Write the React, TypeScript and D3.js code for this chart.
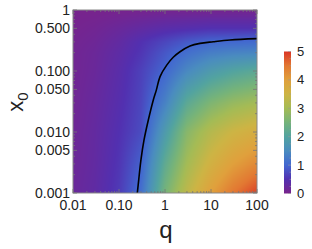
import { useMemo } from 'react';
import * as d3 from 'd3';

// grid: rows are x0, columns are q
const qGrid = [0.01, 0.03, 0.1, 0.3, 1, 3, 10, 30, 100];
const x0Grid = [0.001, 0.003, 0.01, 0.03, 0.1, 0.2, 0.3, 0.5, 1];
const row0001 = [0.2, 0.33, 0.6, 1.1, 2.5, 3.3, 4.0, 4.5, 4.9];
const row0003 = [0.17, 0.3, 0.55, 0.95, 2.2, 3.0, 3.6, 4.0, 4.3];
const row001 = [0.15, 0.28, 0.5, 0.75, 1.8, 2.7, 3.2, 3.5, 3.7];
const row003 = [0.12, 0.25, 0.45, 0.7, 1.35, 2.15, 2.6, 2.85, 3.0];
const row01 = [0.1, 0.2, 0.4, 0.65, 1.0, 1.45, 1.8, 2.0, 2.15];
const row02 = [0.1, 0.18, 0.35, 0.55, 0.85, 1.1, 1.3, 1.38, 1.42];
const row03 = [0.08, 0.15, 0.3, 0.5, 0.7, 0.88, 1.0, 1.02, 1.05];
const row05 = [0.05, 0.1, 0.2, 0.3, 0.4, 0.45, 0.5, 0.5, 0.5];
const row1 = [0.02, 0.02, 0.03, 0.04, 0.05, 0.05, 0.05, 0.05, 0.05];
const rows = [row0001, row0003, row001, row003, row01, row02, row03, row05, row1];

// level-1 contour, points
const contourQ = [0.25, 0.268, 0.3, 0.35, 0.434, 0.557, 0.65, 0.78, 1.09, 1.51, 2.12, 3.49, 5.77, 11.2, 25.9, 100];
const contourX0 = [0.001, 0.00163, 0.0035, 0.0074, 0.0157, 0.0335, 0.049, 0.081, 0.125, 0.168, 0.207, 0.257, 0.284, 0.302, 0.322, 0.339];

const xTickLabels = ['0.01', '0.10', '1', '10', '100'];
const xTickValues = [0.01, 0.1, 1, 10, 100];
const yTickLabels = ['1', '0.500', '0.100', '0.050', '0.010', '0.005', '0.001'];
const yTickValues = [1, 0.5, 0.1, 0.05, 0.01, 0.005, 0.001];
const barTicks = [0, 1, 2, 3, 4, 5];

const rainbow = ['#79238b', '#5230b0', '#4267d0', '#4a8cbf', '#52a3a0', '#75b37a', '#a4bb55', '#cdb444', '#e0a03c', '#e27832', '#da3526'];

const W = 312, H = 249;
const L = 73, R = 257, T = 10, B = 193;
const font = '"Liberation Sans", Arial, sans-serif';

export default function App() {
  const x = d3.scaleLog().domain([0.01, 100]).range([L, R]);
  const y = d3.scaleLog().domain([0.001, 1]).range([B, T]);
  const color = d3.scaleLinear<string>()
    .domain(d3.range(rainbow.length).map(i => (i * 5) / (rainbow.length - 1)))
    .range(rainbow)
    .clamp(true);
  const cb = d3.scaleLinear().domain([0, 5]).range([193.5, 51.5]);

  const href = useMemo(() => {
    const w = R - L, h = B - T;
    const canvas = document.createElement('canvas');
    canvas.width = w; canvas.height = h;
    const ctx = canvas.getContext('2d');
    if (!ctx) return '';
    const img = ctx.createImageData(w, h);
    const lq = qGrid.map(Math.log10);
    const lx = x0Grid.map(Math.log10);
    const find = (arr: number[], v: number) => {
      let i = 0;
      while (i < arr.length - 2 && v > arr[i + 1]) i++;
      const t = Math.max(0, Math.min(1, (v - arr[i]) / (arr[i + 1] - arr[i])));
      return [i, t];
    };
    for (let py = 0; py < h; py++) {
      const vx0 = Math.log10(y.invert(T + py + 0.5));
      const [j, ty] = find(lx, vx0);
      for (let px = 0; px < w; px++) {
        const vq = Math.log10(x.invert(L + px + 0.5));
        const [i, tx] = find(lq, vq);
        const a = rows[j][i] * (1 - tx) + rows[j][i + 1] * tx;
        const b = rows[j + 1][i] * (1 - tx) + rows[j + 1][i + 1] * tx;
        const c = d3.rgb(color(a * (1 - ty) + b * ty));
        const k = (py * w + px) * 4;
        img.data[k] = c.r; img.data[k + 1] = c.g; img.data[k + 2] = c.b; img.data[k + 3] = 255;
      }
    }
    ctx.putImageData(img, 0, 0);
    return canvas.toDataURL();
  }, []);

  const line = d3.line<number>()
    .x(i => x(contourQ[i]))
    .y(i => y(contourX0[i]))
    .curve(d3.curveCatmullRom);

  const xMinor: number[] = [];
  for (let d = 0.01; d < 100; d *= 10) for (let m = 2; m <= 9; m++) xMinor.push(d * m);
  const yMinor: number[] = [];
  for (let d = 0.001; d < 1; d *= 10) for (let m = 2; m <= 9; m++) if (m !== 5) yMinor.push(d * m);
  const barMinor = d3.range(0, 5.01, 0.25).filter(v => Math.abs(v - Math.round(v)) > 0.01);
  const tick = '#777';

  return (
    <svg width={W} height={H} style={{ position: 'absolute', left: 0, top: 0 }}>
      <image href={href} x={L} y={T} width={R - L} height={B - T} preserveAspectRatio="none" />
      <path d={line(d3.range(contourQ.length)) || ''} fill="none" stroke="#000" strokeWidth={1.6} />
      <rect x={L} y={T} width={R - L} height={B - T} fill="none" stroke="#888" strokeWidth={1} />
      <g stroke={tick} strokeWidth={0.8}>
        {xTickValues.map(v => (
          <g key={'xt' + v}>
            <line x1={x(v)} x2={x(v)} y1={B} y2={B - 4} />
            <line x1={x(v)} x2={x(v)} y1={T} y2={T + 4} />
          </g>
        ))}
        {xMinor.map(v => (
          <g key={'xm' + v}>
            <line x1={x(v)} x2={x(v)} y1={B} y2={B - 2} />
            <line x1={x(v)} x2={x(v)} y1={T} y2={T + 2} />
          </g>
        ))}
        {yTickValues.map(v => (
          <g key={'yt' + v}>
            <line x1={L} x2={L + 4} y1={y(v)} y2={y(v)} />
            <line x1={R} x2={R - 4} y1={y(v)} y2={y(v)} />
          </g>
        ))}
        {yMinor.map(v => (
          <g key={'ym' + v}>
            <line x1={L} x2={L + 2} y1={y(v)} y2={y(v)} />
            <line x1={R} x2={R - 2} y1={y(v)} y2={y(v)} />
          </g>
        ))}
      </g>
      <g fontFamily={font} fontSize={14} fill="#222">
        {xTickValues.map((v, i) => (
          <text key={'xl' + v} x={x(v)} y={210} textAnchor="middle">{xTickLabels[i]}</text>
        ))}
        {yTickValues.map((v, i) => (
          <text key={'yl' + v} x={70} y={y(v) + 5} textAnchor="end">{yTickLabels[i]}</text>
        ))}
      </g>
      <text x={166} y={238} fontFamily={font} fontSize={24} textAnchor="middle" fill="#222">q</text>
      <text transform="translate(23,102) rotate(-90)" fontFamily={font} fontSize={22} textAnchor="middle" fill="#222">
        x<tspan fontSize={15} dy={5}>0</tspan>
      </text>
      <defs>
        <linearGradient id="cbar" x1="0" x2="0" y1="1" y2="0">
          {rainbow.map((c, i) => (
            <stop key={i} offset={i / (rainbow.length - 1)} stopColor={c} />
          ))}
        </linearGradient>
      </defs>
      <rect x={284} y={cb(5)} width={7} height={cb(0) - cb(5)} fill="url(#cbar)" />
      <g stroke="#999" strokeWidth={0.6}>
        {barTicks.map(v => (
          <line key={'bt' + v} x1={288} x2={291} y1={cb(v)} y2={cb(v)} />
        ))}
        {barMinor.map(v => (
          <line key={'bm' + v} x1={289.5} x2={291} y1={cb(v)} y2={cb(v)} />
        ))}
      </g>
      <g fontFamily={font} fontSize={13} fill="#222">
        {barTicks.map(v => (
          <text key={'bl' + v} x={297} y={cb(v) + 4.5}>{v}</text>
        ))}
      </g>
    </svg>
  );
}
